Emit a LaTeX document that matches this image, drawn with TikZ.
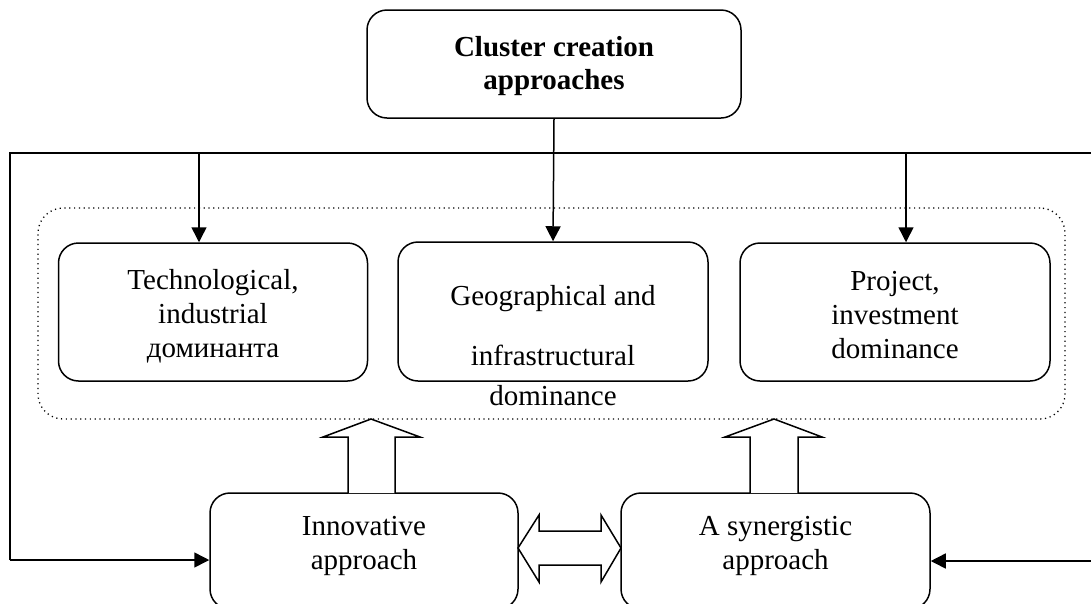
\documentclass[tikz,border=0pt]{standalone}
\usepackage{fontspec}
\setmainfont{Liberation Serif}
\usetikzlibrary{arrows.meta}
\begin{document}
\begin{tikzpicture}[x=1pt,y=-1pt,
  box/.style={draw, line width=1.5pt, rounded corners=20pt, inner sep=0pt},
  txt/.style={align=center, inner sep=0pt, font=\fontsize{29}{34}\selectfont},
  link/.style={line width=1.5pt, -{Triangle[length=15pt,width=15pt]}},
  hollow/.style={draw, line width=1.5pt, fill=white, line join=miter}]
\useasboundingbox (0,0) rectangle (1091,603);
\clip (0,0) rectangle (1091,603);

% grouping frame around the three dominance boxes
\node[draw, line width=1.3pt, dash pattern=on 1.2pt off 3.6pt, rounded corners=25pt,
      minimum width=1027pt, minimum height=211pt, inner sep=0pt] (group) at (551.5,313.5) {};

% header
\node[box, minimum width=374pt, minimum height=108pt] (top) at (554,64) {};
\node[txt, font=\fontsize{29}{33}\selectfont\bfseries] (toptxt) at (554,66) {Cluster creation\\approaches};

% dominance boxes
\node[box, minimum width=309pt, minimum height=138pt] (tech) at (213,312) {};
\node[txt] (techtxt) at (213,316) {Technological,\\industrial\\доминанта};
\node[box, minimum width=310pt, minimum height=139pt] (geo) at (553,311.5) {};
\node[txt, anchor=base] (geo1) at (553,305) {Geographical and};
\node[txt, anchor=base] (geo2) at (553,365) {infrastructural};
\node[txt, anchor=base] (geo3) at (553,405) {dominance};
\node[box, minimum width=310pt, minimum height=138pt] (proj) at (895,312) {};
\node[txt] (projtxt) at (895,315) {Project,\\investment\\dominance};

% approaches (their lower edge runs just past the bottom border)
\node[box, minimum width=308pt, minimum height=116pt] (inn) at (364,551) {};
\node[txt] (inntxt) at (364,546) {Innovative\\approach};
\node[box, minimum width=309pt, minimum height=116pt] (syn) at (775.5,551) {};
\node[txt] (syntxt) at (775.5,546) {A synergistic\\approach};

% distribution line
\coordinate (fl) at (10,153);
\coordinate (fr) at (1120,153);
\coordinate (bl) at (10,560);
\coordinate (br) at (1120,561);
\draw[line width=1.5pt] (bl) -- (fl) -- (fr) -- (br);
\draw[link] (bl) -- (inn.west |- bl);
\draw[link] (br) -- (syn.east |- br);
\draw[link] (top.south) -- (geo.north);
\coordinate (t1) at (199,153);
\coordinate (t3) at (906,153);
\draw[link] (t1) -- (t1 |- tech.north);
\draw[link] (t3) -- (t3 |- proj.north);

% block arrows from the approaches up to the group
\draw[hollow] (348,493) -- (348,437) -- (323,437) -- (371,419) -- (420,437) -- (395,437) -- (395,493);
\draw[hollow] (750,493) -- (750,437) -- (725,437) -- (774,419) -- (822,437) -- (798,437) -- (798,493);

% two-way block arrow between the approaches
\draw[hollow] (518,548) -- (539,515) -- (539,531) -- (601,531) -- (601,515) -- (621,548)
  -- (601,582) -- (601,565) -- (539,565) -- (539,582) -- cycle;
\end{tikzpicture}
\end{document}
